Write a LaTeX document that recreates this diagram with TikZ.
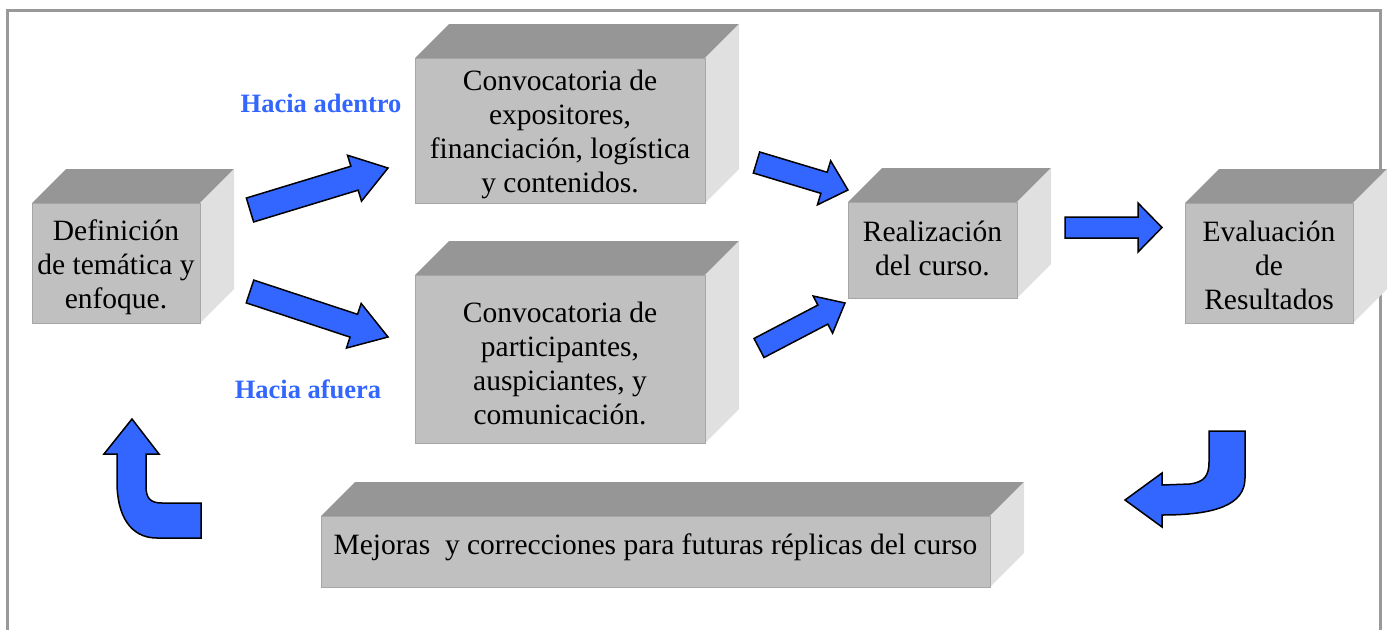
\documentclass[tikz,border=0pt]{standalone}
\usepackage{fontspec}
\setmainfont{Liberation Serif}
\definecolor{arrowblue}{HTML}{3366FF}
\definecolor{topgray}{HTML}{969696}
\definecolor{frontgray}{HTML}{C0C0C0}
\definecolor{sidegray}{HTML}{E0E0E0}
\definecolor{edgegray}{HTML}{A6A6A6}
\definecolor{framegray}{HTML}{999999}
\tikzset{
  topface/.style={fill=topgray},
  sideface/.style={fill=sidegray},
  frontface/.style={draw=edgegray, line width=1pt, fill=frontgray},
  boxtext/.style={inner sep=0pt, align=center, font=\fontsize{29.5}{34}\selectfont},
  barrow/.style={draw=black, line width=1.5pt, fill=arrowblue, line join=miter},
  hacia/.style={text=arrowblue, font=\fontsize{26.5}{30}\selectfont\bfseries, inner sep=0pt},
  frameline/.style={draw=framegray, line width=3pt}
}
% [#1 text offset] #2 name, #3 x1, #4 y1, #5 x2, #6 y2 (front face, pixel coords), #7 text
\newcommand{\cuboid}[7][4]{%
  \fill[topface] (#3,#4) -- (#3+34,#4-34) -- (#5+34,#4-34) -- (#5,#4) -- cycle;
  \fill[sideface] (#5,#4) -- (#5+34,#4-34) -- (#5+34,#6-34) -- (#5,#6) -- cycle;
  \path[frontface] (#3,#4) rectangle (#5,#6);
  \node[boxtext] (#2) at ({(#3+#5)/2},{(#4+#6)/2+#1}) {#7};
}
% #1,#2 tail centre; #3,#4 tip; #5 shaft width; #6 head width; #7 head length
\newcommand{\blockarrow}[7]{%
  \pgfmathsetmacro{\bal}{veclen(#3-#1,#4-#2)}%
  \pgfmathsetmacro{\baa}{atan2(-(#4-#2),#3-#1)}%
  \draw[barrow, shift={(#1,#2)}, rotate=\baa]
    (0,-#5/2) -- (\bal-#7,-#5/2) -- (\bal-#7,-#6/2) -- (\bal,0)
    -- (\bal-#7,#6/2) -- (\bal-#7,#5/2) -- (0,#5/2) -- cycle;
}
\begin{document}
\begin{tikzpicture}[x=1pt, y=-1pt]
\useasboundingbox (0,0) rectangle (1389,630);
\fill[white] (0,0) rectangle (1389,630);
% frame
\coordinate (f1) at (7,630);
\coordinate (f2) at (7,10);
\coordinate (f3) at (1380,10);
\coordinate (f4) at (1380,630);
\draw[frameline] (f1) -- (f2) -- (f3) -- (f4);
% boxes
\cuboid{def}{32}{203}{200}{323}{Definición\\de temática y\\enfoque.}
\cuboid{expo}{415}{58}{705}{203}{Convocatoria de\\expositores,\\financiación, logística\\y contenidos.}
\cuboid{part}{415}{275}{705}{443}{Convocatoria de\\participantes,\\auspiciantes, y\\comunicación.}
\cuboid[-2]{real}{848}{202}{1017}{298}{Realización\\del curso.}
\cuboid[2]{eval}{1185}{203}{1353}{323}{Evaluación\\de\\Resultados}
\cuboid{mej}{321}{516}{990}{587}{\raisebox{23pt}{Mejoras\ \ y correcciones para futuras réplicas del curso}}
% labels
\node[hacia] (hin) at (321,103) {Hacia adentro};
\node[hacia] (hout) at (308,389) {Hacia afuera};
% straight block arrows
\blockarrow{250}{210}{388}{168}{25}{48}{35}
\blockarrow{250}{291.5}{388}{337}{24}{47}{36}
\blockarrow{756.5}{162.5}{848}{190}{22}{46}{25}
\blockarrow{759}{348}{845}{303}{21.5}{42}{25}
\blockarrow{1065}{227.5}{1162}{227.5}{21}{49}{24}
% curved arrow right (Evaluacion -> Mejoras)
\draw[barrow] (1209,431) -- (1245,431) -- (1245,478)
  .. controls (1245,505) and (1215,515) .. (1162,515)
  -- (1162,527) -- (1125,500) -- (1162,473) -- (1162,485) -- (1190,484)
  .. controls (1204,482) and (1209,476) .. (1209,462) -- cycle;
% curved arrow left (Mejoras -> Definicion)
\draw[barrow] (132,419) -- (159,454) -- (146,454) -- (146,486)
  .. controls (146,498) and (150,503) .. (162,503)
  -- (201,503) -- (201,538) -- (157,538)
  .. controls (130,538) and (117,515) .. (117,482)
  -- (117,454) -- (104,454) -- cycle;
\end{tikzpicture}
\end{document}
